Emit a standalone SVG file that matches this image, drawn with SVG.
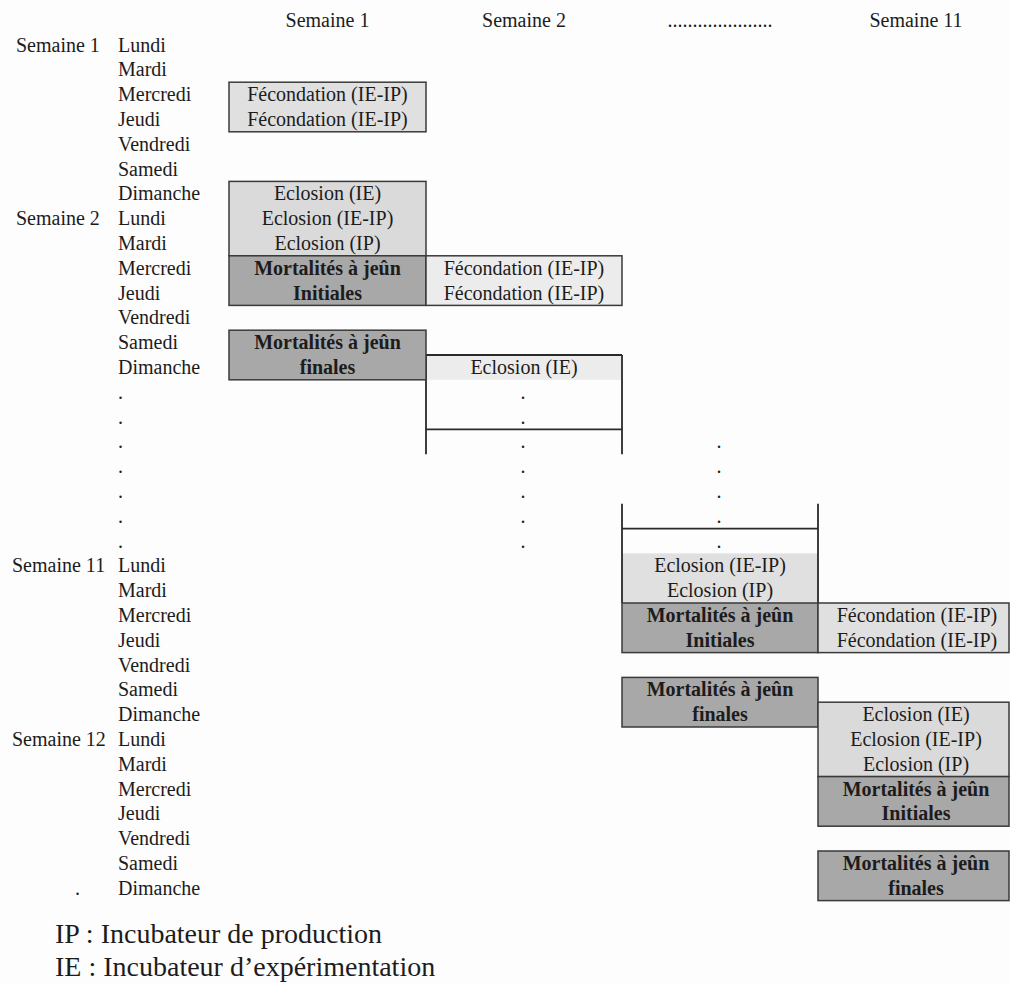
<svg xmlns="http://www.w3.org/2000/svg" width="1010" height="983" viewBox="0 0 1010 983">
<style>
.t{font-family:"Liberation Serif","Times New Roman",serif;font-size:20px;fill:#1c1c1c}
.c{text-anchor:middle}
.b{font-weight:bold}
.lg{font-family:"Liberation Serif","Times New Roman",serif;font-size:28px;fill:#1c1c1c}
.bx{stroke:#3a3a3a;stroke-width:1.5}
.light{fill:#e0e0e0}
.ecl{fill:#dadada}
.pale{fill:#ececec}
.dark{fill:#a8a8a8}
.ln{stroke:#2a2a2a;stroke-width:1.8;fill:none}
</style>
<rect width="1010" height="983" fill="#fdfdfd"/>

<g id="header" class="t c">
<text x="327.5" y="27">Semaine 1</text>
<text x="524" y="27">Semaine 2</text>
<text x="720" y="27">.....................</text>
<text x="916" y="27">Semaine 11</text>
</g>

<g id="weeks" class="t">
<text x="16" y="51.5">Semaine 1</text>
<text x="16" y="225.1">Semaine 2</text>
<text x="12" y="572.3">Semaine 11</text>
<text x="12" y="745.9">Semaine 12</text>
</g>

<g id="days" class="t">
<text x="118" y="51.5">Lundi</text>
<text x="118" y="76.3">Mardi</text>
<text x="118" y="101.1">Mercredi</text>
<text x="118" y="125.9">Jeudi</text>
<text x="118" y="150.7">Vendredi</text>
<text x="118" y="175.5">Samedi</text>
<text x="118" y="200.3">Dimanche</text>
<text x="118" y="225.1">Lundi</text>
<text x="118" y="249.9">Mardi</text>
<text x="118" y="274.7">Mercredi</text>
<text x="118" y="299.5">Jeudi</text>
<text x="118" y="324.3">Vendredi</text>
<text x="118" y="349.1">Samedi</text>
<text x="118" y="373.9">Dimanche</text>
<text x="118" y="398.7">.</text>
<text x="118" y="423.5">.</text>
<text x="118" y="448.3">.</text>
<text x="118" y="473.1">.</text>
<text x="118" y="497.9">.</text>
<text x="118" y="522.7">.</text>
<text x="118" y="547.5">.</text>
<text x="118" y="572.3">Lundi</text>
<text x="118" y="597.1">Mardi</text>
<text x="118" y="621.9">Mercredi</text>
<text x="118" y="646.7">Jeudi</text>
<text x="118" y="671.5">Vendredi</text>
<text x="118" y="696.3">Samedi</text>
<text x="118" y="721.1">Dimanche</text>
<text x="118" y="745.9">Lundi</text>
<text x="118" y="770.7">Mardi</text>
<text x="118" y="795.5">Mercredi</text>
<text x="118" y="820.3">Jeudi</text>
<text x="118" y="845.1">Vendredi</text>
<text x="118" y="869.9">Samedi</text>
<text x="118" y="894.7">Dimanche</text>
<text x="75" y="894.7">.</text>
</g>

<g id="connectors">
<rect x="426" y="355" width="196" height="24.8" class="pale"/>
<rect x="622" y="553.4" width="196" height="49.6" class="light"/>
<path class="ln" d="M426 355H622M426 355V454.2M622 355V454.2M426 429.4H622"/>
<path class="ln" d="M622 503.8V603M818 503.8V603M622 528.6H818"/>
</g>

<g id="fec-s1" class="t c">
<rect x="229" y="82.2" width="197" height="49.6" class="bx light"/>
<text x="327.5" y="101.1">Fécondation (IE-IP)</text>
<text x="327.5" y="125.9">Fécondation (IE-IP)</text>
</g>

<g id="ecl-s1" class="t c">
<rect x="229" y="181.4" width="197" height="74.4" class="bx ecl"/>
<text x="327.5" y="200.3">Eclosion (IE)</text>
<text x="327.5" y="225.1">Eclosion (IE-IP)</text>
<text x="327.5" y="249.9">Eclosion (IP)</text>
</g>

<g id="mortI-s1" class="t c b">
<rect x="229" y="255.8" width="197" height="49.6" class="bx dark"/>
<text x="327.5" y="274.7">Mortalités à jeûn</text>
<text x="327.5" y="299.5">Initiales</text>
</g>

<g id="fec-s2" class="t c">
<rect x="426" y="255.8" width="196" height="49.6" class="bx pale"/>
<text x="524" y="274.7">Fécondation (IE-IP)</text>
<text x="524" y="299.5">Fécondation (IE-IP)</text>
</g>

<g id="mortF-s1" class="t c b">
<rect x="229" y="330.2" width="197" height="49.6" class="bx dark"/>
<text x="327.5" y="349.1">Mortalités à jeûn</text>
<text x="327.5" y="373.9">finales</text>
</g>

<g id="ecl-s2" class="t c">
<text x="524" y="373.9">Eclosion (IE)</text>
<text x="523" y="398.7">.</text>
<text x="523" y="423.5">.</text>
<text x="523" y="448.3">.</text>
<text x="523" y="473.1">.</text>
<text x="523" y="497.9">.</text>
<text x="523" y="522.7">.</text>
<text x="523" y="547.5">.</text>
</g>

<g id="ecl-s3" class="t c">
<text x="719" y="448.3">.</text>
<text x="719" y="473.1">.</text>
<text x="719" y="497.9">.</text>
<text x="719" y="522.7">.</text>
<text x="719" y="547.5">.</text>
<text x="720" y="572.3">Eclosion (IE-IP)</text>
<text x="720" y="597.1">Eclosion (IP)</text>
</g>

<g id="mortI-s3" class="t c b">
<rect x="622" y="603" width="196" height="49.6" class="bx dark"/>
<text x="720" y="621.9">Mortalités à jeûn</text>
<text x="720" y="646.7">Initiales</text>
</g>

<g id="fec-s11" class="t c">
<rect x="818" y="603" width="191" height="49.6" class="bx light"/>
<text x="917" y="621.9">Fécondation (IE-IP)</text>
<text x="917" y="646.7">Fécondation (IE-IP)</text>
</g>

<g id="mortF-s3" class="t c b">
<rect x="622" y="677.4" width="196" height="49.6" class="bx dark"/>
<text x="720" y="696.3">Mortalités à jeûn</text>
<text x="720" y="721.1">finales</text>
</g>

<g id="ecl-s11" class="t c">
<rect x="818" y="702.2" width="191" height="74.4" class="bx ecl"/>
<text x="916" y="721.1">Eclosion (IE)</text>
<text x="916" y="745.9">Eclosion (IE-IP)</text>
<text x="916" y="770.7">Eclosion (IP)</text>
</g>

<g id="mortI-s11" class="t c b">
<rect x="818" y="776.6" width="191" height="49.6" class="bx dark"/>
<text x="916" y="795.5">Mortalités à jeûn</text>
<text x="916" y="820.3">Initiales</text>
</g>

<g id="mortF-s11" class="t c b">
<rect x="818" y="851" width="191" height="49.6" class="bx dark"/>
<text x="916" y="869.9">Mortalités à jeûn</text>
<text x="916" y="894.7">finales</text>
</g>

<g id="legend" class="lg">
<text x="55" y="943">IP : Incubateur de production</text>
<text x="55" y="976">IE : Incubateur d’expérimentation</text>
</g>
</svg>
